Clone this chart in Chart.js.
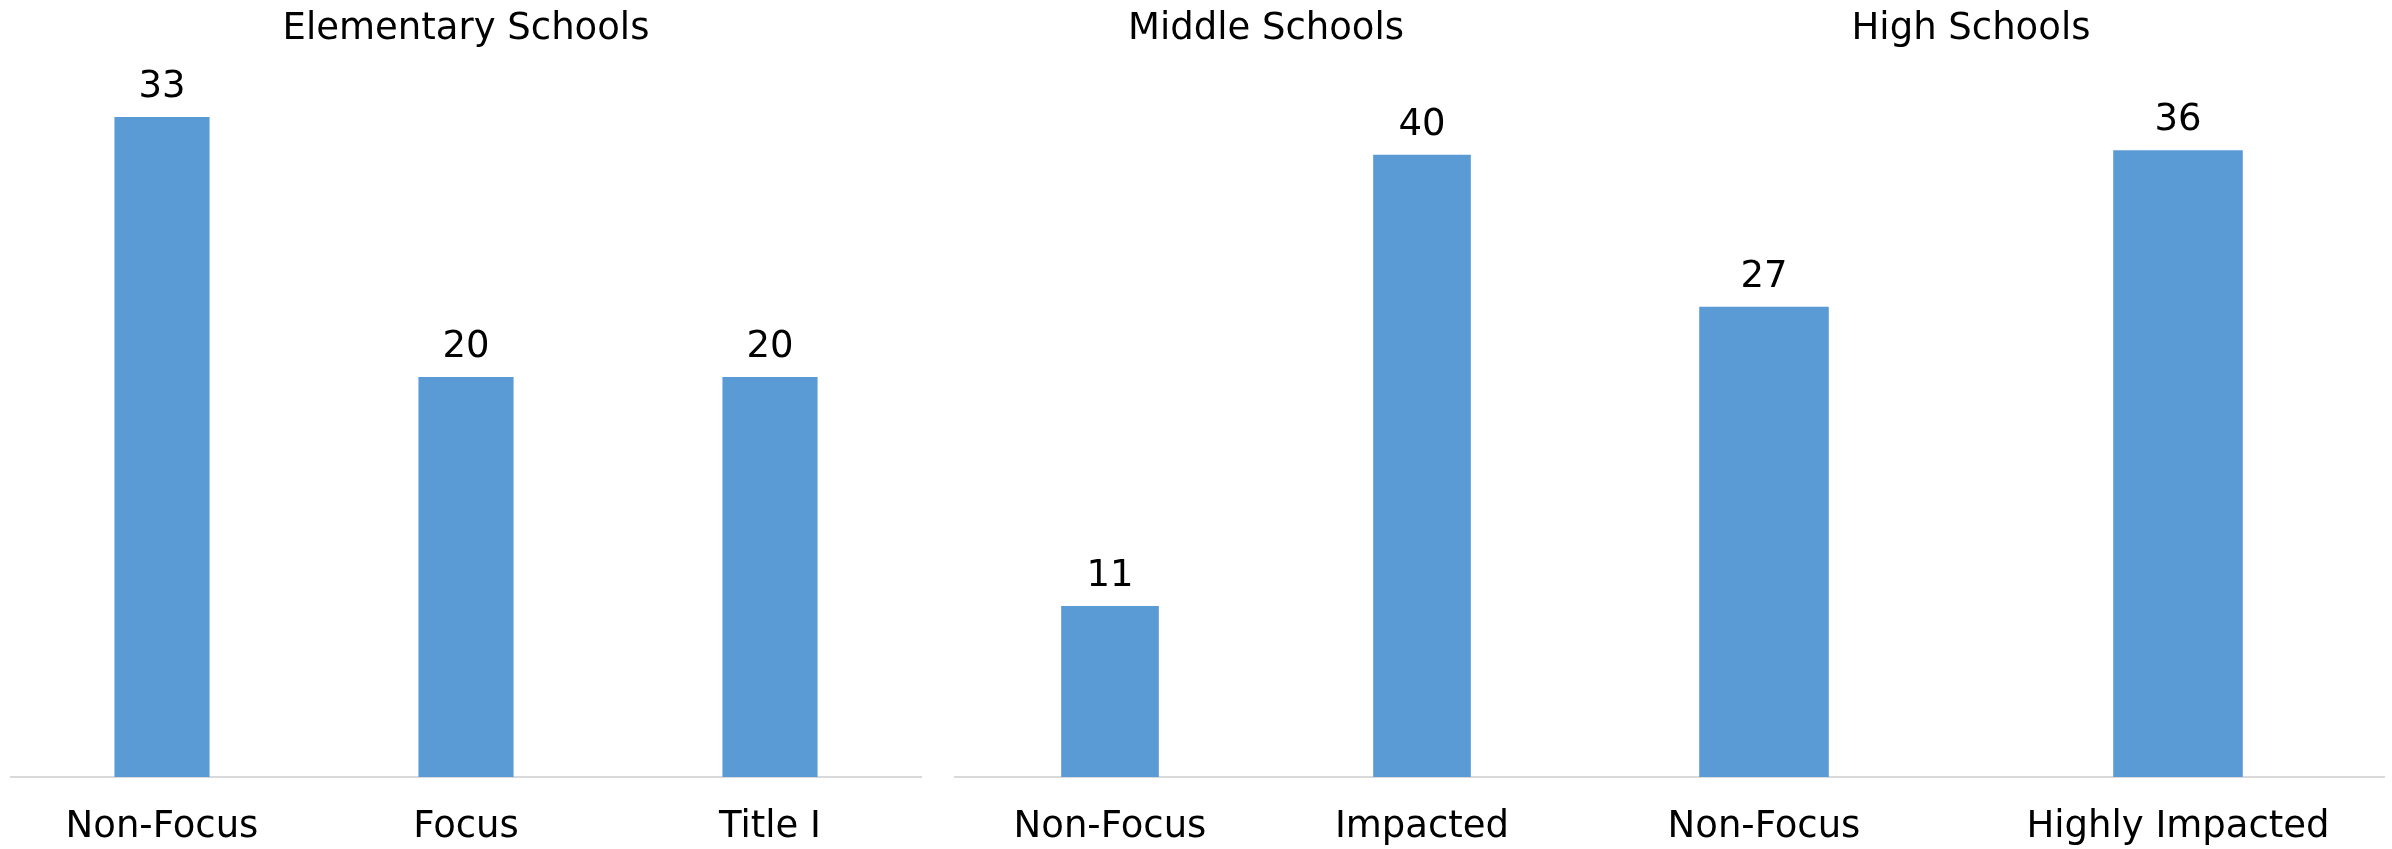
<!DOCTYPE html>
<html>
<head>
<meta charset="utf-8">
<script src="https://cdn.jsdelivr.net/npm/chart.js@4.4.1/dist/chart.umd.min.js"></script>
<style>
  html, body { margin: 0; padding: 0; background: #ffffff; }
  body { width: 2392px; height: 849px; position: relative; overflow: hidden; }
  .panel { position: absolute; top: 0; height: 849px; }
</style>
</head>
<body>
<div class="panel" style="left:10px;width:912px;"><canvas id="elem" width="912" height="849"></canvas></div>
<div class="panel" style="left:954px;width:624px;"><canvas id="middle" width="624" height="849"></canvas></div>
<div class="panel" style="left:1557px;width:828px;"><canvas id="high" width="828" height="849"></canvas></div>
<script>
// ---- data ----
const elemTitle = 'Elementary Schools';
const elemCategories = ['Non-Focus', 'Focus', 'Title I'];
const elemValues = [33, 20, 20];
const elemAxisMax = 35;

const middleTitle = 'Middle Schools';
const middleCategories = ['Non-Focus', 'Impacted'];
const middleValues = [11, 40];
const middleAxisMax = 45;

const highTitle = 'High Schools';
const highCategories = ['Non-Focus', 'Highly Impacted'];
const highValues = [27, 36];
const highAxisMax = 40.2;

// ---- style ----
const FONT = 'DejaVu Sans';
const FONT_SIZE = 37;
const BAR_COLOR = '#5b9bd5';
const AXIS_COLOR = '#d9d9d9';

const valueLabels = {
  id: 'valueLabels',
  afterDatasetsDraw(chart) {
    const ctx = chart.ctx;
    ctx.save();
    ctx.font = FONT_SIZE + 'px "' + FONT + '"';
    ctx.fillStyle = '#000000';
    ctx.textAlign = 'center';
    ctx.textBaseline = 'alphabetic';
    chart.data.datasets.forEach((ds, di) => {
      const meta = chart.getDatasetMeta(di);
      meta.data.forEach((bar, i) => {
        ctx.fillText(String(ds.data[i]), bar.x, bar.y - 20);
      });
    });
    ctx.restore();
  }
};

function makeChart(id, title, categories, values, axisMax) {
  return new Chart(document.getElementById(id), {
    type: 'bar',
    data: {
      labels: categories,
      datasets: [{
        data: values,
        backgroundColor: BAR_COLOR,
        borderWidth: 0,
        barPercentage: 0.313,
        categoryPercentage: 1.0
      }]
    },
    options: {
      responsive: false,
      animation: false,
      layout: { padding: { top: 0, bottom: 0, left: 0, right: 0 } },
      plugins: {
        legend: { display: false },
        tooltip: { enabled: false },
        title: {
          display: true,
          text: title,
          color: '#000000',
          font: { family: FONT, size: FONT_SIZE, weight: 'normal', lineHeight: 1.2 },
          padding: { top: 7, bottom: 25.6 }
        }
      },
      scales: {
        x: {
          offset: true,
          grid: { display: false, drawTicks: false },
          border: { display: true, color: AXIS_COLOR, width: 2 },
          ticks: {
            color: '#000000',
            padding: 28,
            maxRotation: 0,
            autoSkip: false,
            font: { family: FONT, size: FONT_SIZE, lineHeight: 1.2 }
          },
          afterFit(scale) { scale.height = 72; }
        },
        y: {
          display: false,
          min: 0,
          max: axisMax
        }
      }
    },
    plugins: [valueLabels]
  });
}

makeChart('elem', elemTitle, elemCategories, elemValues, elemAxisMax);
makeChart('middle', middleTitle, middleCategories, middleValues, middleAxisMax);
makeChart('high', highTitle, highCategories, highValues, highAxisMax);
</script>
</body>
</html>
